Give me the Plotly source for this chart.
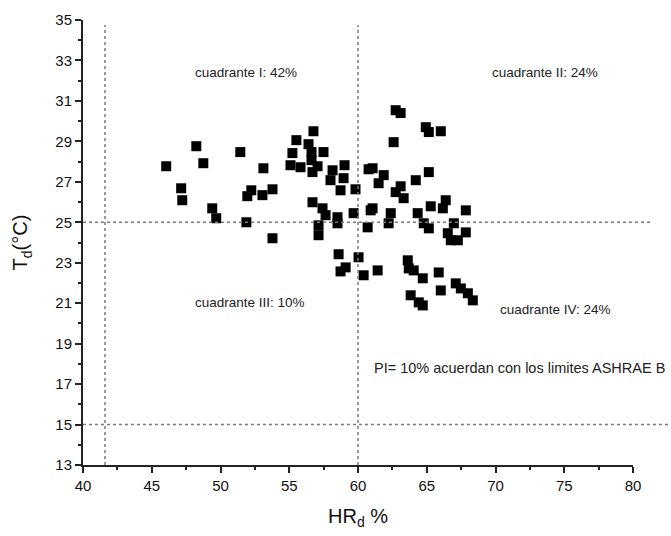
import plotly.graph_objects as go

# Data (HR_d %, T_d °C)
hr = [46.05, 47.14, 47.22, 48.24, 48.75, 49.40, 49.69, 51.44, 51.88, 51.95,
      52.24, 53.05, 53.12, 53.78, 53.78,
      56.76, 55.52, 56.40, 55.23, 56.62, 56.62, 56.69, 57.49, 55.09, 55.82,
      57.06, 58.15, 59.02, 58.00, 58.95, 58.73, 59.82, 60.77, 56.69, 57.42,
      57.64, 58.51, 58.51, 57.13, 57.13, 59.68, 60.92, 60.70, 58.59, 60.04,
      59.10, 58.73, 60.41, 61.43,
      62.74, 63.10, 64.93, 65.15, 66.02, 62.59, 61.06, 61.87, 61.50, 63.10,
      62.74, 63.32, 64.20, 65.15, 61.06, 62.38, 62.23, 64.34, 65.29, 66.17,
      66.38, 67.84, 64.78, 65.15, 66.97, 66.53, 66.75, 67.26, 67.84, 63.62,
      63.69, 64.05, 64.71, 65.87, 63.83, 64.42, 64.71, 66.02, 67.11, 67.48,
      67.99, 68.35]
td = [27.77, 26.68, 26.09, 28.76, 27.92, 25.69, 25.20, 28.47, 25.00, 26.29,
      26.58, 26.34, 27.67, 26.63, 24.21,
      29.50, 29.06, 28.86, 28.42, 28.47, 28.07, 27.48, 28.47, 27.82, 27.72,
      27.77, 27.57, 27.82, 27.08, 27.18, 26.58, 26.63, 27.62, 25.99, 25.69,
      25.35, 25.25, 24.95, 24.85, 24.36, 25.45, 25.59, 24.75, 23.42, 23.27,
      22.77, 22.57, 22.38, 22.62,
      30.54, 30.40, 29.70, 29.46, 29.50, 28.96, 27.67, 27.33, 26.93, 26.78,
      26.49, 26.19, 27.08, 27.48, 25.69, 25.45, 24.95, 25.45, 25.79, 25.69,
      26.09, 25.59, 24.95, 24.70, 24.95, 24.46, 24.11, 24.11, 24.50, 23.12,
      22.72, 22.62, 22.23, 22.52, 21.39, 21.04, 20.89, 21.63, 21.98, 21.73,
      21.49, 21.14]

x_ticks = [40, 45, 50, 55, 60, 65, 70, 75, 80]
y_ticks = [13, 15, 17, 19, 21, 23, 25, 27, 29, 31, 33, 35]

labels = ["cuadrante I: 42%", "cuadrante II: 24%", "cuadrante III: 10%",
          "cuadrante IV: 24%", "PI= 10% acuerdan con los limites ASHRAE B"]
label_x = [48.0, 69.6, 48.0, 70.2, 61.0]
label_y = [32.4, 32.4, 21.05, 20.7, 17.8]
label_size = [13.5, 13.5, 13.5, 13.5, 14.5]

fig = go.Figure()
fig.add_trace(go.Scatter(x=hr, y=td, mode="markers",
                         marker=dict(symbol="square", size=10, color="black",
                                     line=dict(width=0)),
                         showlegend=False, cliponaxis=False))

dot = dict(color="#7a7a7a", width=1.5, dash="dot")
shapes = [
    dict(type="line", xref="x", yref="y", x0=41.6, x1=41.6, y0=13, y1=34.75, line=dot),
    dict(type="line", xref="x", yref="y", x0=60, x1=60, y0=13, y1=34.75, line=dot),
    dict(type="line", xref="paper", yref="y", x0=0, x1=1.033, y0=25, y1=25, line=dot),
    dict(type="line", xref="paper", yref="y", x0=0, x1=1.07, y0=15, y1=15, line=dot),
]

annotations = []
for t, ax_, ay_, fs in zip(labels, label_x, label_y, label_size):
    annotations.append(dict(x=ax_, y=ay_, xref="x", yref="y", text=t, showarrow=False,
                            xanchor="left", yanchor="middle",
                            font=dict(family="Liberation Sans, Arial", size=fs, color="#222")))

fig.update_layout(
    width=671, height=536,
    margin=dict(l=83, r=38, t=20, b=71),
    paper_bgcolor="white", plot_bgcolor="white",
    shapes=shapes, annotations=annotations,
    font=dict(family="Liberation Sans, Arial", color="#111"),
    xaxis=dict(range=[40, 80], tickvals=x_ticks, showgrid=False, zeroline=False,
               showline=True, linecolor="#222", linewidth=2,
               ticks="outside", ticklen=6, tickwidth=2, tickcolor="#222",
               minor=dict(dtick=2.5, ticks="outside", ticklen=3, tickwidth=1.5, tickcolor="#222"),
               tickfont=dict(size=15, color="#111"),
               title=dict(text="HR<sub>d</sub> %", font=dict(size=20, color="#111"), standoff=16)),
    yaxis=dict(range=[13, 35], tickvals=y_ticks, showgrid=False, zeroline=False,
               showline=True, linecolor="#222", linewidth=2,
               ticks="outside", ticklen=6, tickwidth=2, tickcolor="#222",
               minor=dict(dtick=1, ticks="outside", ticklen=3, tickwidth=1.5, tickcolor="#222"),
               tickfont=dict(size=15, color="#111"),
               title=dict(text="T<sub>d</sub>(°C)", font=dict(size=20, color="#111"), standoff=22)),
)

fig.write_html("out.html")
